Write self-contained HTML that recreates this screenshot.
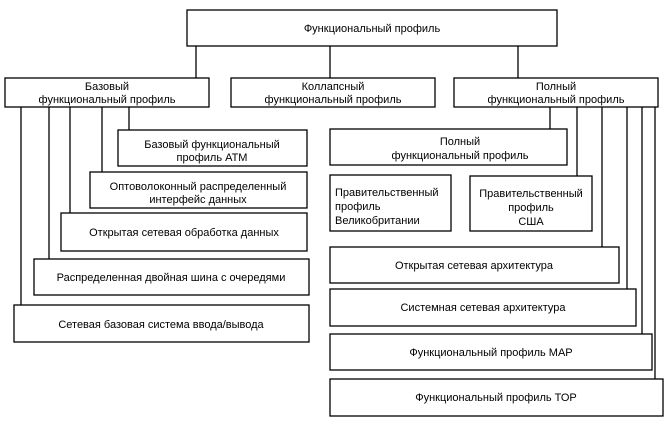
<!DOCTYPE html>
<html><head><meta charset="utf-8"><style>
html,body{margin:0;padding:0;background:#fff}
svg{display:block}
text{font-family:"Liberation Sans","DejaVu Sans",sans-serif;font-size:11px;fill:#000}
rect{fill:#fff;stroke:#000;stroke-width:1.3}
line{stroke:#000;stroke-width:1.3}
</style></head><body>
<svg width="665" height="432" viewBox="0 0 665 432">
<!-- connectors -->
<line x1="196" y1="46" x2="196" y2="78"/>
<line x1="330" y1="46" x2="330" y2="78"/>
<line x1="518" y1="46" x2="518" y2="78"/>
<line x1="21" y1="107" x2="21" y2="305"/>
<line x1="49" y1="107" x2="49" y2="259"/>
<line x1="70" y1="107" x2="70" y2="213"/>
<line x1="102" y1="107" x2="102" y2="172"/>
<line x1="129" y1="107" x2="129" y2="130"/>
<line x1="550" y1="107" x2="550" y2="129"/>
<line x1="577" y1="107" x2="577" y2="176"/>
<line x1="602" y1="107" x2="602" y2="247"/>
<line x1="627" y1="107" x2="627" y2="289"/>
<line x1="642" y1="107" x2="642" y2="334"/>
<line x1="655" y1="107" x2="655" y2="379"/>
<!-- boxes -->
<rect x="187" y="10" width="370" height="36"/>
<text x="372" y="32" text-anchor="middle">Функциональный профиль</text>
<rect x="5" y="78" width="204" height="29"/>
<text x="107" y="90" text-anchor="middle">Базовый</text>
<text x="107" y="103" text-anchor="middle">функциональный  профиль</text>
<rect x="231" y="78" width="204" height="29"/>
<text x="333" y="90" text-anchor="middle">Коллапсный</text>
<text x="333" y="103" text-anchor="middle">функциональный  профиль</text>
<rect x="454" y="78" width="204" height="29"/>
<text x="556" y="90" text-anchor="middle">Полный</text>
<text x="556" y="103" text-anchor="middle">функциональный  профиль</text>

<rect x="118" y="130" width="189" height="36"/>
<text x="212" y="148" text-anchor="middle">Базовый функциональный</text>
<text x="212" y="161" text-anchor="middle">профиль АТМ</text>
<rect x="90" y="172" width="217" height="36"/>
<text x="198" y="190" text-anchor="middle">Оптоволоконный распределенный</text>
<text x="198" y="203" text-anchor="middle">интерфейс  данных</text>
<rect x="61" y="213" width="246" height="38"/>
<text x="184" y="236" text-anchor="middle">Открытая сетевая обработка данных</text>
<rect x="34" y="259" width="275" height="36"/>
<text x="171" y="281" text-anchor="middle">Распределенная двойная шина с очередями</text>
<rect x="14" y="305" width="295" height="37"/>
<text x="161" y="328" text-anchor="middle">Сетевая базовая  система ввода/вывода</text>

<rect x="330" y="129" width="237" height="36"/>
<text x="460" y="145" text-anchor="middle">Полный</text>
<text x="460" y="159" text-anchor="middle">функциональный профиль</text>
<rect x="330" y="175" width="121" height="56"/>
<text x="335" y="196">Правительственный</text>
<text x="335" y="210">профиль</text>
<text x="335" y="224">Великобритании</text>
<rect x="470" y="176" width="122" height="55"/>
<text x="531" y="197" text-anchor="middle">Правительственный</text>
<text x="531" y="211" text-anchor="middle">профиль</text>
<text x="531" y="225" text-anchor="middle">США</text>
<rect x="330" y="247" width="289" height="36"/>
<text x="474" y="269" text-anchor="middle">Открытая  сетевая архитектура</text>
<rect x="330" y="289" width="306" height="37"/>
<text x="483" y="311" text-anchor="middle">Системная сетевая архитектура</text>
<rect x="330" y="334" width="322" height="36"/>
<text x="491" y="356" text-anchor="middle">Функциональный профиль  МАР</text>
<rect x="330" y="379" width="333" height="37"/>
<text x="496" y="401" text-anchor="middle">Функциональный профиль ТОР</text>
</svg>
</body></html>
